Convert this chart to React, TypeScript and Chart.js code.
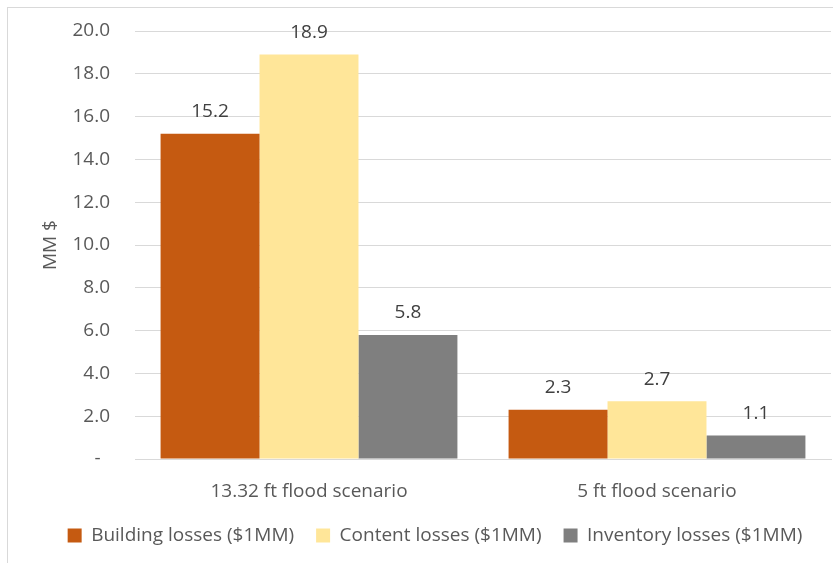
import React, { useEffect, useRef } from "react";
import { Chart, registerables } from "chart.js";

Chart.register(...registerables);

const categories = ["13.32 ft flood scenario", "5 ft flood scenario"];
const seriesNames = [
  "Building losses ($1MM)",
  "Content losses ($1MM)",
  "Inventory losses ($1MM)",
];
const buildingLosses = [15.2, 2.3];
const contentLosses = [18.9, 2.7];
const inventoryLosses = [5.8, 1.1];
const seriesColors = ["#C55A11", "#FFE699", "#7F7F7F"];
const yTicks = [0, 2, 4, 6, 8, 10, 12, 14, 16, 18, 20];

const FONT = "'Open Sans', sans-serif";
const FS = 19;

const dataLabelPlugin = {
  id: "dataLabels",
  afterDatasetsDraw(chart: any) {
    const ctx = chart.ctx;
    ctx.save();
    ctx.font = `${FS}px ${FONT}`;
    ctx.fillStyle = "#404040";
    ctx.textAlign = "center";
    ctx.textBaseline = "middle";
    chart.data.datasets.forEach((ds: any, i: number) => {
      const meta = chart.getDatasetMeta(i);
      meta.data.forEach((el: any, j: number) => {
        ctx.fillText(Number(ds.data[j]).toFixed(1), el.x, el.y - 22);
      });
    });
    ctx.restore();
  },
};

const borderPlugin = {
  id: "outerBorder",
  beforeDraw(chart: any) {
    const ctx = chart.ctx;
    ctx.save();
    ctx.strokeStyle = "#D9D9D9";
    ctx.lineWidth = 1;
    ctx.strokeRect(7.5, 7.5, 1000, 1000);
    ctx.restore();
  },
};

export default function App() {
  const ref = useRef<HTMLCanvasElement>(null);
  useEffect(() => {
    document.body.style.margin = "0";
    const chart = new Chart(ref.current!, {
      type: "bar",
      data: {
        labels: categories,
        datasets: [buildingLosses, contentLosses, inventoryLosses].map((d, i) => ({
          label: seriesNames[i],
          data: d,
          backgroundColor: seriesColors[i],
          borderWidth: 0,
          categoryPercentage: 0.853,
          barPercentage: 1,
        })),
      },
      options: {
        responsive: false,
        animation: false,
        layout: { padding: { left: 39, right: 2, top: 31, bottom: 8 } },
        plugins: {
          tooltip: { enabled: false },
          legend: {
            position: "bottom",
            labels: {
              boxWidth: 14,
              boxHeight: 14,
              padding: 22,
              color: "#595959",
              font: { family: FONT, size: FS },
            },
          },
        },
        scales: {
          x: {
            grid: { display: false },
            border: { color: "#D9D9D9" },
            ticks: {
              color: "#595959",
              font: { family: FONT, size: FS },
              padding: 13,
            },
            afterFit(scale: any) {
              scale.height = 45;
            },
          },
          y: {
            min: 0,
            max: 20,
            afterBuildTicks(scale: any) {
              scale.ticks = yTicks.map((v) => ({ value: v }));
            },
            grid: { color: "#D9D9D9", drawTicks: false },
            border: { display: false },
            ticks: {
              color: "#595959",
              font: { family: FONT, size: FS },
              padding: 25,
              callback: (v: any) => (Number(v) === 0 ? "-\u2002" : Number(v).toFixed(1)),
            },
            title: {
              display: true,
              text: "MM $",
              color: "#595959",
              font: { family: FONT, size: FS },
              padding: 0,
            },
            afterFit(scale: any) {
              scale.width = 96;
              scale.paddingTop = 0;
              scale.paddingBottom = 0;
            },
          },
        },
      },
      plugins: [dataLabelPlugin, borderPlugin],
    } as any);
    return () => chart.destroy();
  }, []);
  return <canvas ref={ref} width={833} height={563} style={{ display: "block" }} />;
}
